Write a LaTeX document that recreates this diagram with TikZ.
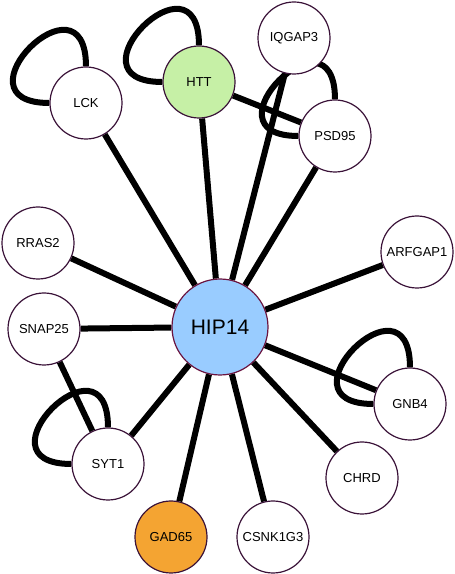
\documentclass[tikz,border=0pt]{standalone}
\usepackage{fontspec}
\setmainfont{Liberation Sans}
\usetikzlibrary{backgrounds}
\definecolor{hubblue}{HTML}{99CCFF}
\definecolor{httgreen}{HTML}{C6F0A6}
\definecolor{gadorange}{HTML}{F4A432}
\definecolor{rimpurple}{HTML}{3A1238}
\definecolor{hubrim}{HTML}{6A1440}
\begin{document}
\begin{tikzpicture}[x=1pt,y=1pt,
  protein/.style={circle,draw=rimpurple,line width=1.2pt,fill=white,
    minimum size=72pt,inner sep=0pt,font=\fontsize{13}{15}\selectfont},
  hub/.style={protein,minimum size=96pt,fill=hubblue,draw=hubrim,
    font=\fontsize{21}{25}\selectfont},
  link/.style={line width=6pt}]
\useasboundingbox (0,0) rectangle (455,574);
% Draw the hub
\node[hub] (hip14) at (220,247) {HIP14};
% Draw the partners
\node[protein] (lck) at (86,471) {LCK};
\node[protein,fill=httgreen] (htt) at (199,492) {HTT};
\node[protein] (iqgap3) at (294,536) {IQGAP3};
\node[protein] (psd95) at (335,438) {PSD95};
\node[protein] (rras2) at (38,331) {RRAS2};
\node[protein] (arfgap1) at (417,322) {ARFGAP1};
\node[protein] (snap25) at (44,245) {SNAP25};
\node[protein] (gnb4) at (410,170) {GNB4};
\node[protein] (syt1) at (108,110) {SYT1};
\node[protein] (chrd) at (362,96) {CHRD};
\node[protein,fill=gadorange] (gad65) at (171,37) {GAD65};
\node[protein] (csnk1g3) at (273,37) {CSNK1G3};
% Draw interactions behind the nodes
\begin{pgfonlayer}{background}
\foreach \p in {lck,htt,iqgap3,psd95,rras2,arfgap1,snap25,gnb4,syt1,chrd,gad65,csnk1g3}
  \draw[link] (hip14) -- (\p);
\draw[link] (htt) -- (psd95);
\draw[link] (snap25) -- (syt1);
% Self interactions
\foreach \p in {lck,htt,psd95,gnb4,syt1}
  \draw[link] (\p.north) .. controls +(0,100) and +(-100,0) .. (\p.west);
\end{pgfonlayer}
\end{tikzpicture}
\end{document}
